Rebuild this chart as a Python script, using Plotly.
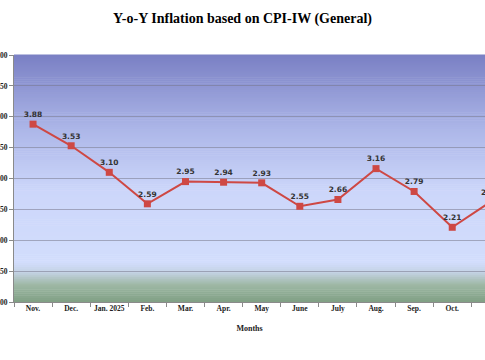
import plotly.graph_objects as go

months = ["Nov.", "Dec.", "Jan. 2025", "Feb.", "Mar.", "Apr.", "May", "June",
          "July", "Aug.", "Sep.", "Oct.", "Nov."]
inflation = [3.88, 3.53, 3.10, 2.59, 2.95, 2.94, 2.93, 2.55, 2.66, 3.16, 2.79, 2.21, 2.62]
y_ticks = [1.0, 1.5, 2.0, 2.5, 3.0, 3.5, 4.0, 4.5, 5.0]

xs = list(range(len(months)))

fig = go.Figure()
fig.add_trace(go.Scatter(
    x=xs, y=inflation, mode="lines+markers+text",
    line=dict(color="rgb(206,72,68)", width=2),
    marker=dict(symbol="square", size=7, color="rgb(206,72,68)"),
    text=[f"{v:.2f}" for v in inflation],
    textposition="top center",
    textfont=dict(family="DejaVu Sans", size=7.5, color="#333333", weight="bold"),
    cliponaxis=True,
    showlegend=False,
))

# vertical gradient background (purple-blue top -> light blue -> green bottom)
stops = [
    (0.00, (128, 160, 132)),
    (0.07, (158, 184, 165)),
    (0.12, (196, 210, 228)),
    (0.16, (210, 221, 252)),
    (0.45, (204, 214, 250)),
    (0.70, (172, 182, 232)),
    (1.00, (122, 128, 196)),
]

def color_at(f):
    for (f0, c0), (f1, c1) in zip(stops[:-1], stops[1:]):
        if f0 <= f <= f1:
            t = (f - f0) / (f1 - f0) if f1 > f0 else 0
            return "rgb(%d,%d,%d)" % tuple(round(a + (b - a) * t) for a, b in zip(c0, c1))
    return "rgb(%d,%d,%d)" % stops[-1][1]

n = 120
shapes = []
for i in range(n):
    f0 = i / n
    f1 = (i + 1) / n
    shapes.append(dict(type="rect", xref="paper", yref="paper", x0=0, x1=1,
                       y0=f0, y1=f1 + 0.002, layer="below", line=dict(width=0),
                       fillcolor=color_at((f0 + f1) / 2)))

fig.update_layout(
    width=485, height=360,
    margin=dict(l=14, r=0, t=55, b=58),
    paper_bgcolor="white",
    plot_bgcolor="rgba(0,0,0,0)",
    shapes=shapes,
    title=dict(text="<b>Y-o-Y Inflation based on CPI-IW (General)</b>",
               x=0.5, xanchor="center", y=0.95, yanchor="middle",
               font=dict(family="Liberation Serif", size=14, color="black")),
    xaxis=dict(
        type="linear",
        tickmode="array", tickvals=xs, ticktext=months,
        range=[-0.5, 11.86], showgrid=False, zeroline=False,
        showline=True, linecolor="#8a8a8a", linewidth=1,
        ticks="",
        tickfont=dict(family="Liberation Serif", size=7.5, color="#222222", weight="bold"),
        ticklabelstandoff=-1,
        title=dict(text="<b>Months</b>", standoff=13,
                   font=dict(family="Liberation Serif", size=8, color="#222222")),
        automargin=False,
        minor=dict(tickmode="array", tickvals=[x - 0.5 for x in xs], ticks="outside",
                   ticklen=4, tickcolor="#8a8a8a", showgrid=False),
    ),
    yaxis=dict(
        range=[1.0, 5.0], tickvals=y_ticks, tickformat=".2f",
        showgrid=True, gridcolor="rgba(120,120,140,0.55)", gridwidth=1,
        zeroline=False, showline=True, linecolor="#8a8a8a", linewidth=1,
        ticks="outside", ticklen=4, tickcolor="#8a8a8a",
        tickfont=dict(family="Liberation Serif", size=7.5, color="#222222", weight="bold"),
        automargin=False,
    ),
)

fig.write_html("out.html", config={"displayModeBar": False},
               post_script="document.body.style.margin='0';")
